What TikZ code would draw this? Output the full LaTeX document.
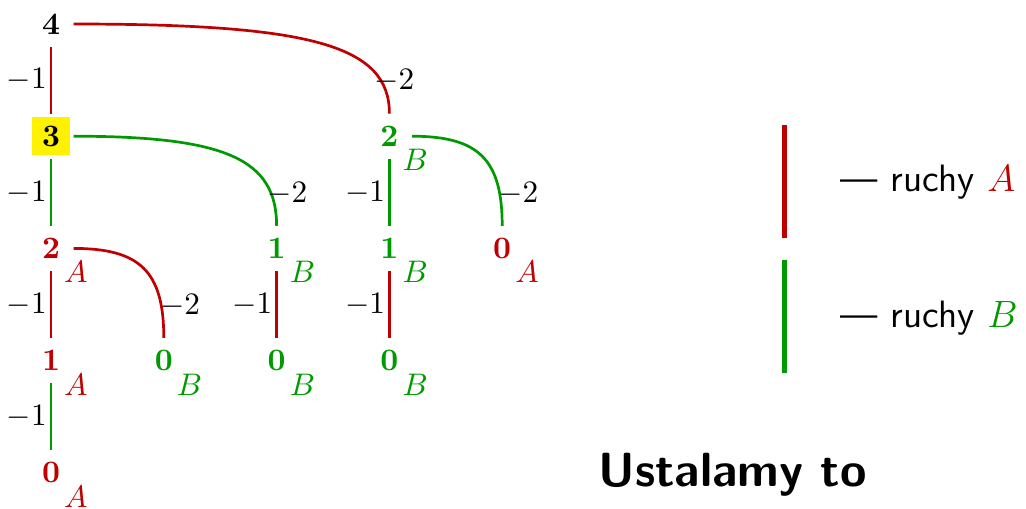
\RequirePackage{fix-cm}
\documentclass[tikz,border=0pt]{standalone}
\usepackage{tikz}
\usetikzlibrary{positioning}

\definecolor{cA}{RGB}{192,0,0}
\definecolor{cB}{RGB}{0,153,0}

\begin{document}
\begin{tikzpicture}[
    font=\fontsize{10.4}{12.5}\selectfont,
    num/.style    = {font=\fontsize{10.4}{12.5}\selectfont\bfseries, inner sep=1pt},
    sub/.style    = {inner sep=0pt},
    numA/.style   = {num, text=cA, label={[sub, text=cA]below right:$A$}},
    numB/.style   = {num, text=cB, label={[sub, text=cB]below right:$B$}},
    hilite/.style = {num, fill=yellow, inner sep=0pt, minimum size=12.8pt},
    movA/.style   = {cA, line width=0.9pt, shorten <=7.55pt, shorten >=7.55pt},
    movB/.style   = {cB, line width=0.9pt, shorten <=7.55pt, shorten >=7.55pt},
    one/.style    = {left, inner sep=1pt, text=black},
    two/.style    = {pos=0.75, anchor=west, inner sep=0pt, text=black},
    leg/.style    = {line width=1.65pt},
    txt/.style    = {anchor=base west, inner sep=0pt},
    node distance = 37.4pt and 37.6pt,
    on grid
]
\useasboundingbox (0,0) rectangle (342pt,-169.33pt);

% COLUMN 1
\node[num] (a0) at (17pt,-8pt) {4};
\node[hilite, below=of a0] (a1) {3};
\node[numA, below=of a1] (a2) {2};
\node[numA, below=of a2] (a3) {1};
\node[numA, below=of a3] (a4) {0};

% OTHER COLUMNS
\node[numB, right=of a3] (b3) {0};
\node[numB, right=75.2pt of a2] (c2) {1};
\node[numB, below=of c2] (c3) {0};
\node[numB, right=of c2] (d2) {1};
\node[numB, above=of d2] (d1) {2};
\node[numB, below=of d2] (d3) {0};
\node[numA, right=of d2] (e2) {0};

% MOVES -1
\foreach \i/\j/\s in {a0/a1/movA, a1/a2/movB, a2/a3/movA, a3/a4/movB,
                      c2/c3/movA, d1/d2/movB, d2/d3/movA}{
  \draw[\s] (\i.center) -- node[one]{$-1$} (\j.center);
}

% MOVES -2
\foreach \i/\j/\s/\o/\n in {a0/d1/movA/86.7pt/30.3pt, a1/c2/movB/58.3pt/29.7pt,
                            d1/e2/movB/29.7pt/29.7pt, a2/b3/movA/29.7pt/29.7pt}{
  \draw[\s] (\i.center) to[out=0, in=90, out distance=\o, in distance=\n]
    node[two]{$-2$} (\j.center);
}

% LEGEND
\coordinate (la1) at (261.5pt,-41.67pt);
\coordinate (la2) at (261.5pt,-79.33pt);
\coordinate (lb1) at (261.5pt,-86.67pt);
\coordinate (lb2) at (261.5pt,-124.33pt);
\draw[leg, cA] (la1) -- (la2);
\draw[leg, cB] (lb1) -- (lb2);
\node[txt, font=\fontsize{12.7}{15}\selectfont\sffamily] (ta) at (280pt,-63.67pt)
  {--- ruchy {\color{cA}$A$}};
\node[txt, font=\fontsize{12.7}{15}\selectfont\sffamily] (tb) at (280pt,-109pt)
  {--- ruchy {\color{cB}$B$}};

\node[txt, font=\fontsize{16}{19}\selectfont\sffamily\bfseries] (tc) at (199.3pt,-162.3pt)
  {Ustalamy to};

\end{tikzpicture}
\end{document}
